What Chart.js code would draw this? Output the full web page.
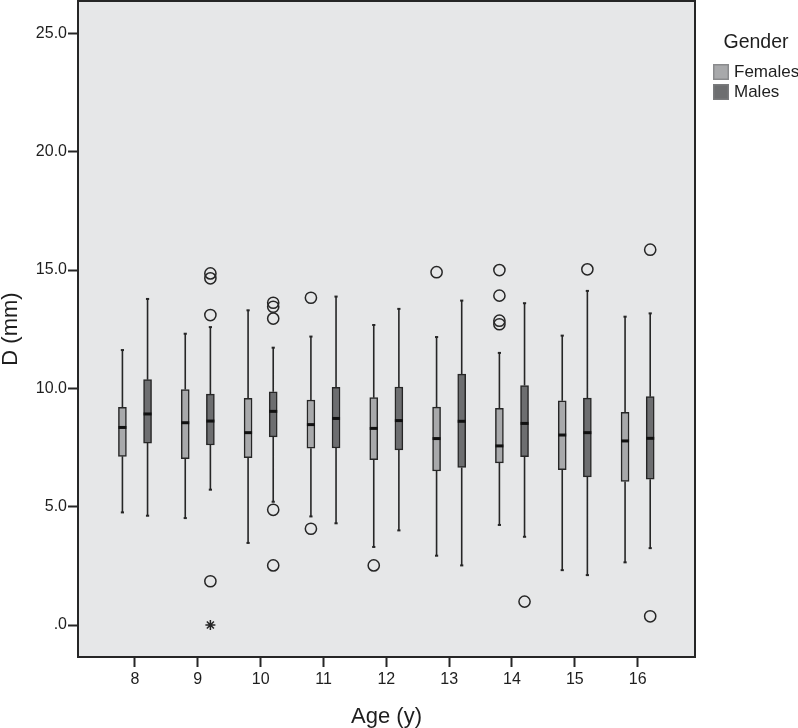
<!DOCTYPE html>
<html>
<head>
<meta charset="utf-8">
<script src="https://cdn.jsdelivr.net/npm/chart.js@4.4.1/dist/chart.umd.min.js"></script>
<style>
  html, body { margin: 0; padding: 0; background: #fff; }
  #wrap { width: 798px; height: 728px; position: relative; }
</style>
</head>
<body>
<div id="wrap"><canvas id="boxChart"></canvas></div>
<script>
// ages on the x axis, each age has a Females and a Males box
const ages = [8, 9, 10, 11, 12, 13, 14, 15, 16]
const yTicks = [0, 5, 10, 15, 20, 25]

const femaleLow  = [4.76, 4.52, 3.47, 4.59, 3.30, 2.93, 4.23, 2.32, 2.65]
const femaleQ1   = [7.13, 7.03, 7.07, 7.47, 6.99, 6.51, 6.85, 6.57, 6.07]
const femaleMed  = [8.35, 8.55, 8.13, 8.47, 8.31, 7.88, 7.57, 8.03, 7.78]
const femaleQ3   = [9.20, 9.95, 9.58, 9.51, 9.61, 9.21, 9.16, 9.48, 8.99]
const femaleHigh = [11.62, 12.31, 13.30, 12.19, 12.68, 12.17, 11.50, 12.23, 13.03]

const maleLow  = [4.62, 5.72, 5.21, 4.30, 4.00, 2.52, 3.73, 2.11, 3.25]
const maleQ1   = [7.69, 7.61, 7.95, 7.48, 7.40, 6.66, 7.11, 6.26, 6.16]
const maleMed  = [8.92, 8.62, 9.03, 8.73, 8.64, 8.61, 8.52, 8.13, 7.89]
const maleQ3   = [10.37, 9.76, 9.86, 10.05, 10.06, 10.60, 10.12, 9.59, 9.65]
const maleHigh = [13.78, 12.59, 11.72, 13.88, 13.36, 13.71, 13.60, 14.12, 13.17]

const femaleOutliers = [[], [], [], [13.83, 4.07], [2.52], [14.91], [15.00, 13.92, 12.86, 12.71], [], []]
const maleOutliers = [[], [14.86, 14.65, 13.10, 1.85], [13.62, 13.45, 12.95, 4.87, 2.52], [], [], [], [0.99], [15.03], [15.86, 0.37]]
const maleExtremes = [[], [0.0], [], [], [], [], [], [], []]

const FONT = '"Liberation Sans", Arial, Helvetica, sans-serif'
const INK = '#262626'
const femaleFill = '#a8a9ab'
const maleFill = '#6d6e70'
const plotBg = '#e6e7e8'
const shift = 0.2

const boxData = (q1, q3, dx) => ages.map((a, i) => ({ x: a + dx, y: [q1[i], q3[i]] }))
const whiskerData = (low, q1, q3, high, dx) => ages.flatMap((a, i) => [
  { x: a + dx, y: high[i] }, { x: a + dx, y: q3[i] }, { x: a + dx, y: null },
  { x: a + dx, y: q1[i] }, { x: a + dx, y: low[i] }, { x: a + dx, y: null }
])
const pairData = (lowArr, highArr, dx) => ages.flatMap((a, i) => [{ x: a + dx, y: lowArr[i] }, { x: a + dx, y: highArr[i] }])
const valueData = (arr, dx) => ages.map((a, i) => ({ x: a + dx, y: arr[i] }))
const listData = (lists, dx) => ages.flatMap((a, i) => lists[i].map(v => ({ x: a + dx, y: v })))

const plotFrame = {
  id: 'plotFrame',
  beforeDatasetsDraw(chart) {
    const { ctx, chartArea: a } = chart
    ctx.save()
    ctx.fillStyle = plotBg
    ctx.fillRect(a.left, a.top, a.right - a.left, a.bottom - a.top)
    ctx.restore()
  },
  afterDraw(chart) {
    const { ctx, chartArea: a } = chart
    ctx.save()
    ctx.strokeStyle = INK
    ctx.lineWidth = 2
    ctx.strokeRect(a.left, a.top, a.right - a.left, a.bottom - a.top)
    ctx.restore()
  }
}

const genderLegend = {
  id: 'genderLegend',
  afterDraw(chart) {
    const { ctx, chartArea: a } = chart
    const x0 = a.right + 18
    ctx.save()
    ctx.fillStyle = '#1e1e1e'
    ctx.font = `19.5px ${FONT}`
    ctx.textAlign = 'center'
    ctx.textBaseline = 'middle'
    ctx.fillText('Gender', x0 + 43, 43)
    const items = chart.data.datasets.filter(d => d.legendBox)
    items.forEach((d, i) => {
      const y = 64 + i * 20
      ctx.fillStyle = d.backgroundColor
      ctx.fillRect(x0, y, 16, 16)
      ctx.strokeStyle = d.legendBorder
      ctx.lineWidth = 1.5
      ctx.strokeRect(x0 + 0.75, y + 0.75, 14.5, 14.5)
      ctx.fillStyle = '#1e1e1e'
      ctx.font = `17px ${FONT}`
      ctx.textAlign = 'left'
      ctx.fillText(d.label, x0 + 21, y + 8.5)
    })
    ctx.restore()
  }
}

const whiskerStyle = { type: 'line', borderColor: INK, borderWidth: 1.6, pointRadius: 0, fill: false, spanGaps: false, order: 4 }
const capStyle = { type: 'scatter', pointStyle: 'line', pointRadius: 1.6, borderColor: INK, pointBorderWidth: 2, order: 3 }
const medianStyle = { type: 'scatter', pointStyle: 'line', pointRadius: 4, borderColor: '#111', pointBorderWidth: 3, order: 0 }
const circleStyle = { type: 'scatter', pointStyle: 'circle', pointRadius: 5.6, backgroundColor: 'rgba(0,0,0,0)', borderColor: INK, pointBorderWidth: 1.5, order: 1 }

new Chart(document.getElementById('boxChart'), {
  type: 'bar',
  data: {
    datasets: [
      { ...whiskerStyle, data: whiskerData(femaleLow, femaleQ1, femaleQ3, femaleHigh, -shift) },
      { ...whiskerStyle, data: whiskerData(maleLow, maleQ1, maleQ3, maleHigh, shift) },
      { ...capStyle, data: pairData(femaleLow, femaleHigh, -shift) },
      { ...capStyle, data: pairData(maleLow, maleHigh, shift) },
      {
        label: 'Females', legendBox: true, legendBorder: '#8a8b8d',
        data: boxData(femaleQ1, femaleQ3, -shift),
        backgroundColor: femaleFill, borderColor: INK, borderWidth: 1.5, borderSkipped: false,
        barThickness: 8, grouped: false, order: 2
      },
      {
        label: 'Males', legendBox: true, legendBorder: '#7a7b7d',
        data: boxData(maleQ1, maleQ3, shift),
        backgroundColor: maleFill, borderColor: INK, borderWidth: 1.5, borderSkipped: false,
        barThickness: 8, grouped: false, order: 2
      },
      { ...medianStyle, data: valueData(femaleMed, -shift) },
      { ...medianStyle, data: valueData(maleMed, shift) },
      { ...circleStyle, data: listData(femaleOutliers, -shift) },
      { ...circleStyle, data: listData(maleOutliers, shift) },
      {
        type: 'scatter', pointStyle: 'star', pointRadius: 5, borderColor: INK, pointBorderWidth: 1.5,
        data: listData(maleExtremes, shift), order: 1
      }
    ]
  },
  options: {
    responsive: true,
    maintainAspectRatio: false,
    animation: false,
    events: [],
    layout: { autoPadding: false, padding: { top: 1, right: 103, left: 0, bottom: 0 } },
    plugins: {
      legend: { display: false },
      tooltip: { enabled: false }
    },
    scales: {
      x: {
        type: 'linear',
        offset: false,
        min: 7.093,
        max: 16.913,
        afterBuildTicks: s => { s.ticks = ages.map(v => ({ value: v })) },
        afterFit: s => { s.height = 71; s.paddingLeft = 0; s.paddingRight = 0 },
        grid: { drawOnChartArea: false, drawTicks: true, tickLength: 10, tickColor: INK, tickWidth: 2, offset: false },
        border: { display: false },
        ticks: { color: '#1e1e1e', font: { family: FONT, size: 16 }, padding: 3, callback: v => v },
        title: { display: true, text: 'Age (y)', color: '#1e1e1e', font: { family: FONT, size: 22, lineHeight: 1 }, padding: 0 }
      },
      y: {
        type: 'linear',
        min: -1.35,
        max: 26.37,
        afterBuildTicks: s => { s.ticks = yTicks.map(v => ({ value: v })) },
        afterFit: s => { s.width = 78; s.paddingTop = 0; s.paddingBottom = 0 },
        grid: { drawOnChartArea: false, drawTicks: true, tickLength: 10, tickColor: INK, tickWidth: 2 },
        border: { display: false },
        ticks: { color: '#1e1e1e', font: { family: FONT, size: 16 }, padding: 1, callback: v => v === 0 ? '.0' : v.toFixed(1) },
        title: { display: true, text: 'D (mm)', color: '#1e1e1e', font: { family: FONT, size: 22, lineHeight: 1 }, padding: 0 }
      }
    }
  },
  plugins: [plotFrame, genderLegend]
})
</script>
</body>
</html>
